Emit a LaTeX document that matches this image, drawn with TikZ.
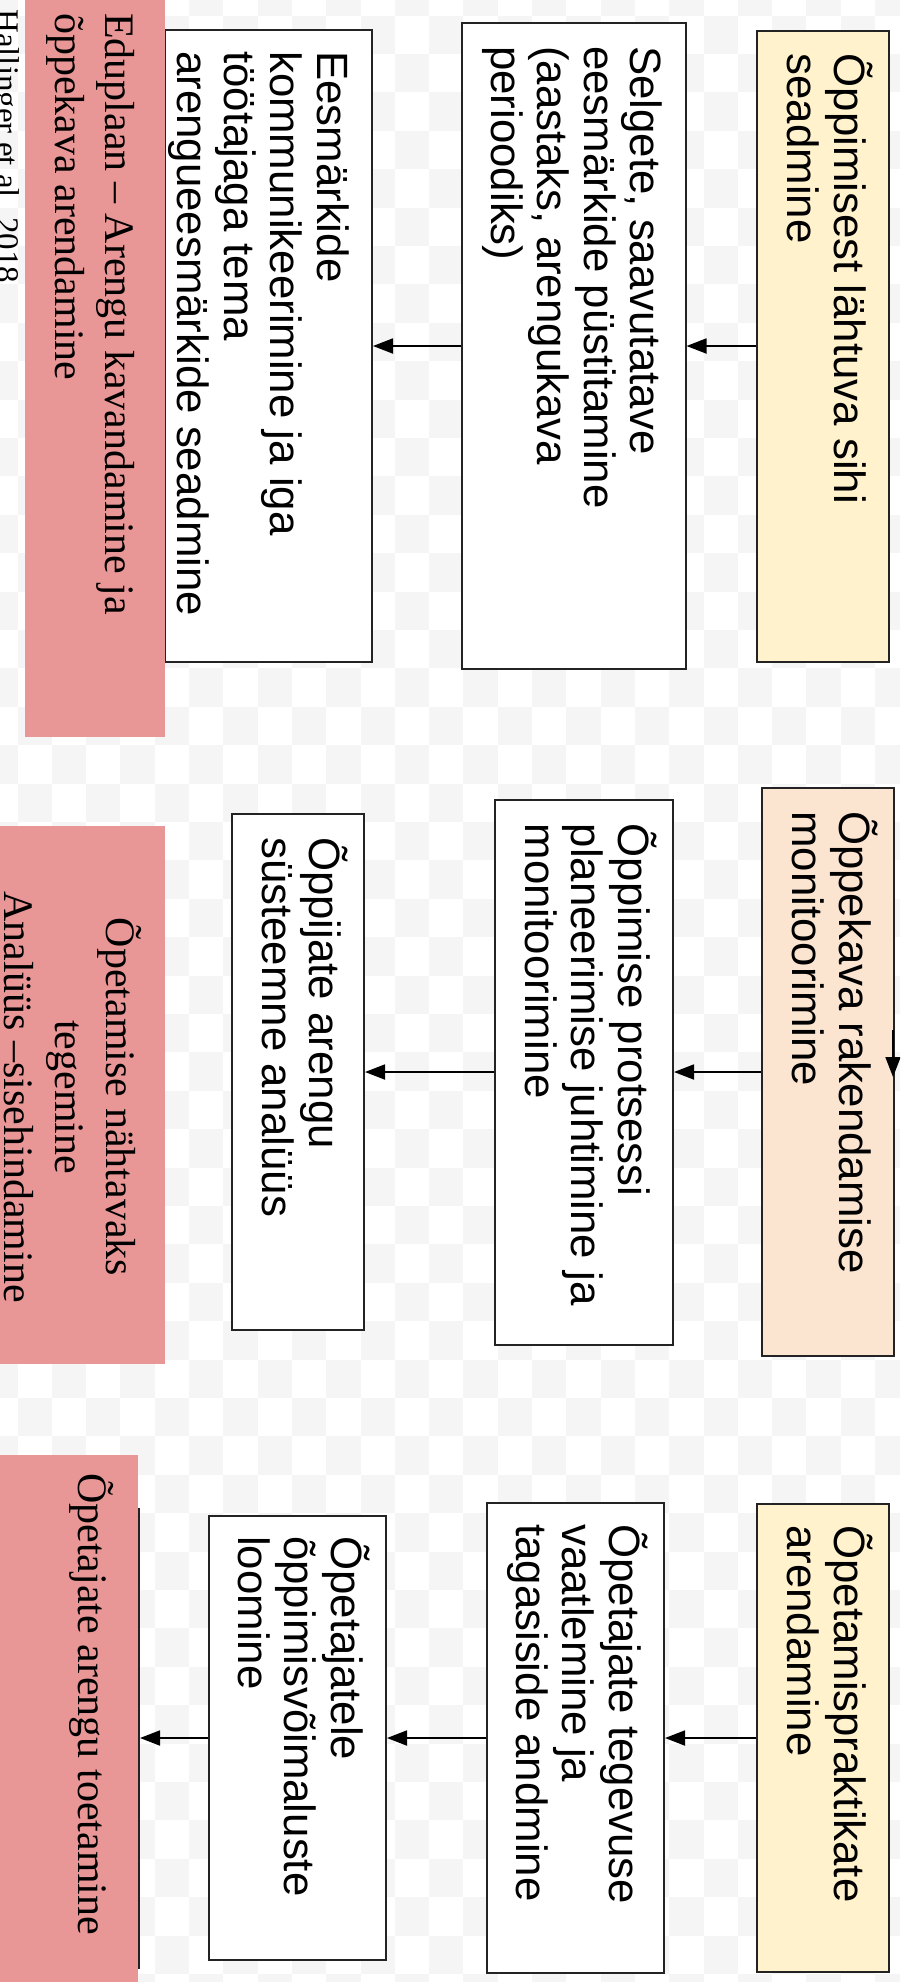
\documentclass[tikz,border=0pt]{standalone}
\usepackage{fontspec}
\setmainfont{Liberation Serif}
\newfontfamily\boxfont{Liberation Sans}
\usetikzlibrary{arrows.meta,calc}
\definecolor{pinkbg}{RGB}{233,150,150}
\definecolor{yel}{RGB}{255,242,204}
\definecolor{peach}{RGB}{251,228,208}
\definecolor{linec}{RGB}{35,35,35}
\definecolor{checker}{RGB}{245,245,245}
\newcommand\stk[1]{\vtop{\halign{##\hfil\cr#1\crcr}}}
\newcommand\stkc[1]{\vtop{\halign{\hfil##\hfil\cr#1\crcr}}}
\begin{document}
\begin{tikzpicture}[x=1pt,y=-1pt,
  box/.style={draw=linec, line width=2pt, rotate=-90, inner sep=0pt},
  btxt/.style={rotate=-90, anchor=base west, inner sep=0pt, text=black,
    font=\boxfont\fontsize{43.8}{46.5}\selectfont},
  ptxt/.style={rotate=-90, inner sep=0pt, text=black,
    font=\fontsize{42}{50}\selectfont},
  pinkbox/.style={fill=pinkbg, inner sep=0pt},
  arr/.style={line width=1.8pt, black, -{Triangle[length=20pt,width=15pt]}}]
\useasboundingbox (0,0) rectangle (900,1982);
\clip (0,0) rectangle (900,1982);
\fill[white] (0,0) rectangle (900,1982);
\foreach \i in {0,...,27}{
  \foreach \j in {0,...,52}{
    \pgfmathtruncatemacro{\chk}{mod(\i+\j,2)}
    \ifnum\chk=0
      \fill[checker] ({17.5+34.3*(\i-1)},{15.5+38.4*(\j-1)}) rectangle +(34.3,38.4);
    \fi
  }
}
% row 1
\node[box, fill=yel, minimum width=631, minimum height=132] (A1) at (823,346) {};
\node[box, fill=white, minimum width=646, minimum height=224] (B1) at (573.5,346) {};
\node[box, fill=white, minimum width=632, minimum height=207] (C1) at (268.5,346) {};
\node[btxt] (A1t) at ($(A1.north west)+(-56,24)$) {\stk{Õppimisest lähtuva sihi\cr seadmine}};
\node[btxt] (B1t) at ($(B1.north west)+(-56,24)$) {\stk{Selgete, saavutatave\cr eesmärkide püstitamine\cr (aastaks, arengukava\cr perioodiks)}};
\node[btxt] (C1t) at ($(C1.north west)+(-56,22)$) {\stk{Eesmärkide\cr kommunikeerimine ja iga\cr töötajaga tema\cr arengueesmärkide seadmine}};
\draw[arr] (A1.south) -- (B1.north);
\draw[arr] (B1.south) -- (C1.north);
% row 2
\node[box, fill=peach, minimum width=568, minimum height=132] (A2) at (828,1072) {};
\node[box, fill=white, minimum width=545, minimum height=178] (B2) at (584,1072) {};
\node[box, fill=white, minimum width=516, minimum height=132] (C2) at (298,1072) {};
\node[btxt] (A2t) at ($(A2.north west)+(-56,24)$) {\stk{Õppekava rakendamise\cr monitoorimine}};
\node[btxt] (B2t) at ($(B2.north west)+(-56,25)$) {\stk{Õppimise protsessi\cr planeerimise juhtimine ja\cr monitoorimine}};
\node[btxt] (C2t) at ($(C2.north west)+(-56,24)$) {\stk{Õppijate arengu\cr süsteemne analüüs}};
\draw[arr] (A2.south) -- (B2.north);
\draw[arr] (B2.south) -- (C2.north);
\coordinate (R1) at (893,1030);
\coordinate (R2) at (893,1077);
\draw[arr] (R1) -- (R2);
% row 3
\node[box, fill=yel, minimum width=468, minimum height=132] (A3) at (823,1738) {};
\node[box, fill=white, minimum width=470, minimum height=177] (B3) at (575.5,1738) {};
\node[box, fill=white, minimum width=444, minimum height=177] (C3) at (297.5,1738) {};
\node[box, fill=white, minimum width=459, minimum height=100] (D3) at (89,1738) {};
\node[btxt] (A3t) at ($(A3.north west)+(-56,22)$) {\stk{Õpetamispraktikate\cr arendamine}};
\node[btxt] (B3t) at ($(B3.north west)+(-56,22)$) {\stk{Õpetajate tegevuse\cr vaatlemine ja\cr tagasiside andmine}};
\node[btxt] (C3t) at ($(C3.north west)+(-56,21)$) {\stk{Õpetajatele\cr õppimisvõimaluste\cr loomine}};
\draw[arr] (A3.south) -- (B3.north);
\draw[arr] (B3.south) -- (C3.north);
\draw[arr] (C3.south) -- (D3.north);
% pink panels
\node[pinkbox, minimum width=140, minimum height=747] (P1) at (95,363.5) {};
\node[pinkbox, minimum width=165, minimum height=538] (P2) at (82.5,1095) {};
\node[pinkbox, minimum width=138, minimum height=537] (P3) at (69,1723.5) {};
\node[ptxt, anchor=base west] (P1t) at (105,13) {\stk{Eduplaan – Arengu kavandamine ja\cr õppekava arendamine}};
\node[ptxt, anchor=base, font=\fontsize{42}{51}\selectfont] (P2t) at (106,1097) {\stkc{Õpetamise nähtavaks\cr tegemine\cr Analüüs –sisehindamine}};
\node[ptxt, anchor=base west] (P3t) at (78,1473) {Õpetajate arengu toetamine};
\node[ptxt, anchor=base west, font=\fontsize{33}{38}\selectfont] (H) at (-4,9) {Hallinger et al. 2018};
\end{tikzpicture}
\end{document}
